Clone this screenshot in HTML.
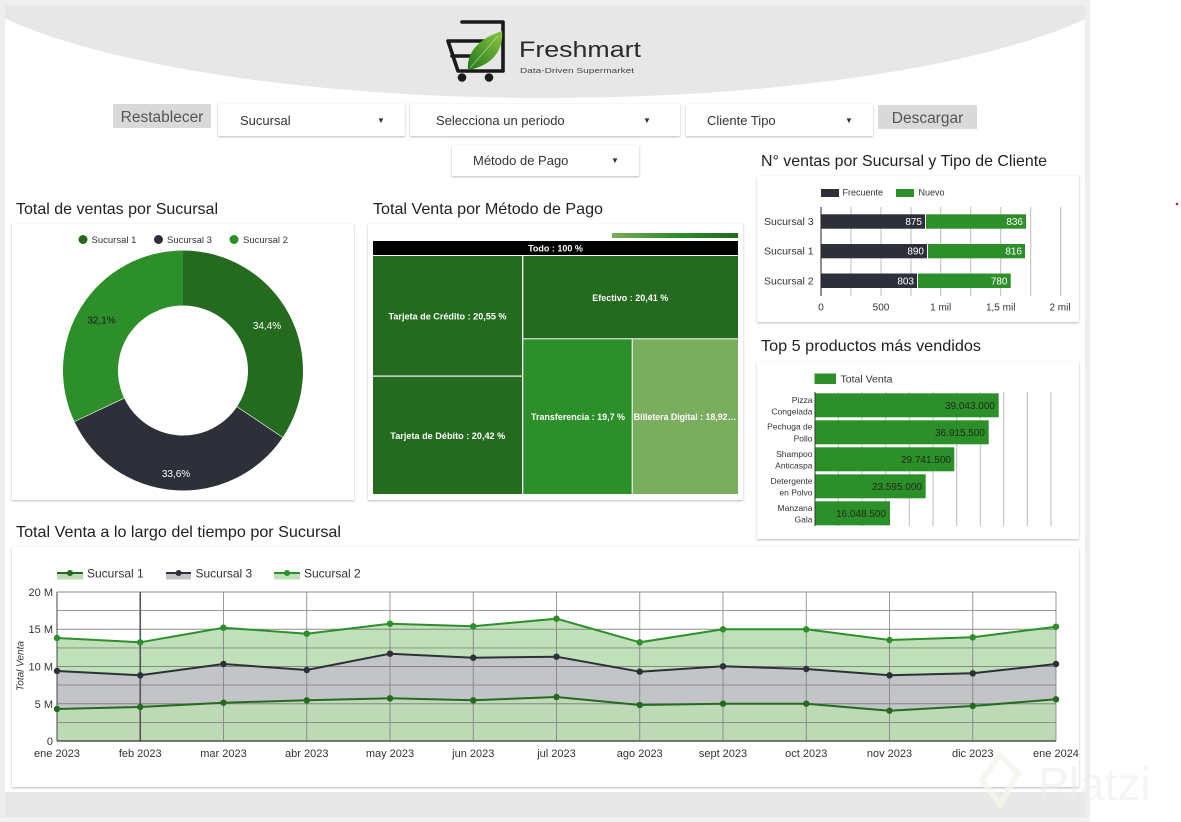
<!DOCTYPE html>
<html><head><meta charset="utf-8"><style>
html,body{margin:0;padding:0;background:#fff;}
svg{display:block;font-family:"Liberation Sans",Arial,sans-serif;}
</style></head><body>
<svg width="1181" height="822" viewBox="0 0 1181 822" xmlns="http://www.w3.org/2000/svg">
<defs>
<filter id="sh" x="-5%" y="-5%" width="110%" height="115%"><feDropShadow dx="0" dy="1" stdDeviation="1" flood-color="#000" flood-opacity="0.28"/></filter>
<clipPath id="mainclip"><rect x="5" y="6" width="1080" height="786"/></clipPath>
<linearGradient id="tg" x1="0" x2="1" y1="0" y2="0"><stop offset="0" stop-color="#7aad5e"/><stop offset="0.5" stop-color="#2d8f29"/><stop offset="1" stop-color="#246b1f"/></linearGradient>
<linearGradient id="leaf" x1="0" y1="1" x2="1" y2="0"><stop offset="0" stop-color="#1f7a1c"/><stop offset="1" stop-color="#8cc63f"/></linearGradient>
</defs>
<!-- frame -->
<rect x="0" y="0" width="1090" height="822" fill="#eeeeee"/>
<rect x="5" y="6" width="1080" height="786" fill="#ffffff"/>
<rect x="5" y="792" width="1080" height="25" fill="#e7e8e7"/>
<rect x="0" y="817" width="1090" height="5" fill="#f2f2f2"/>
<ellipse cx="546" cy="-50" rx="610" ry="148" fill="#e6e7e6" clip-path="url(#mainclip)"/>
<circle cx="1177" cy="204" r="1.3" fill="#c62828"/>

<!-- logo -->
<g fill="none" stroke="#1a1a1a" stroke-width="3.6" stroke-linejoin="round" stroke-linecap="round">
<path d="M462,22 L503,22 L503,71 L458,71 L448,41 L497,41"/>
<path d="M452,56 L490,56"/>
</g>
<circle cx="462" cy="77.5" r="4.3" fill="#1a1a1a"/>
<circle cx="489" cy="77.5" r="4.3" fill="#1a1a1a"/>
<path d="M468,70 C466,52 480,38 502,31 C504,50 492,66 468,70 Z" fill="url(#leaf)"/>
<path d="M470,68 L498,36" stroke="#e6e7e6" stroke-width="0.8" fill="none" opacity="0.6"/>
<text x="519" y="57" font-size="22" fill="#2a2a2a" textLength="122" lengthAdjust="spacingAndGlyphs">Freshmart</text>
<text x="520" y="73" font-size="7.5" fill="#444" textLength="114" lengthAdjust="spacingAndGlyphs">Data-Driven Supermarket</text>

<!-- filter row -->
<rect x="113" y="104" width="98" height="24" fill="#d9d9d9"/>
<text x="162" y="122" font-size="15.5" fill="#555" text-anchor="middle">Restablecer</text>
<rect x="218" y="104" width="187" height="32" fill="#fff" filter="url(#sh)"/>
<text x="240" y="125" font-size="13" fill="#333">Sucursal</text>
<text x="381" y="123" font-size="8" fill="#333" text-anchor="middle">▼</text>
<rect x="410" y="104" width="270" height="32" fill="#fff" filter="url(#sh)"/>
<text x="436" y="125" font-size="13" fill="#333">Selecciona un periodo</text>
<text x="647" y="123" font-size="8" fill="#333" text-anchor="middle">▼</text>
<rect x="686" y="104" width="187" height="32" fill="#fff" filter="url(#sh)"/>
<text x="707" y="125" font-size="13" fill="#333">Cliente Tipo</text>
<text x="849" y="123" font-size="8" fill="#333" text-anchor="middle">▼</text>
<rect x="878" y="105" width="99" height="24" fill="#d9d9d9"/>
<text x="927.5" y="123" font-size="15.5" fill="#555" text-anchor="middle">Descargar</text>
<rect x="452" y="145" width="187" height="31" fill="#fff" filter="url(#sh)"/>
<text x="473" y="165" font-size="13" fill="#333">Método de Pago</text>
<text x="615" y="163" font-size="8" fill="#333" text-anchor="middle">▼</text>

<!-- titles -->
<g font-size="16" fill="#212121">
<text x="16" y="214" textLength="202" lengthAdjust="spacingAndGlyphs">Total de ventas por Sucursal</text>
<text x="373" y="214" textLength="230" lengthAdjust="spacingAndGlyphs">Total Venta por Método de Pago</text>
<text x="761" y="166" textLength="286" lengthAdjust="spacingAndGlyphs">N° ventas por Sucursal y Tipo de Cliente</text>
<text x="761" y="351" textLength="220" lengthAdjust="spacingAndGlyphs">Top 5 productos más vendidos</text>
<text x="16" y="537" textLength="325" lengthAdjust="spacingAndGlyphs">Total Venta a lo largo del tiempo por Sucursal</text>
</g>

<!-- cards -->
<rect x="12" y="224" width="342" height="276" fill="#fff" filter="url(#sh)"/>
<rect x="368" y="224" width="375" height="276" fill="#fff" filter="url(#sh)"/>
<rect x="757" y="176" width="322" height="146" fill="#fff" filter="url(#sh)"/>
<rect x="757" y="362" width="322" height="177" fill="#fff" filter="url(#sh)"/>
<rect x="12" y="547" width="1067" height="240" fill="#fff" filter="url(#sh)"/>

<!-- donut -->
<g font-size="9.5" fill="#333">
<circle cx="83" cy="239.5" r="4.5" fill="#246b1f"/><text x="91.5" y="243">Sucursal 1</text>
<circle cx="158.5" cy="239.5" r="4.5" fill="#2d3038"/><text x="167" y="243">Sucursal 3</text>
<circle cx="234" cy="239.5" r="4.5" fill="#2d8f29"/><text x="243" y="243">Sucursal 2</text>
</g>
<path d="M183,250.5 A120,120 0 0 1 282.67,437.33 L236.99,406.7 A65,65 0 0 0 183,305.5 Z" fill="#246b1f"/>
<path d="M282.67,437.33 A120,120 0 0 1 74.42,421.6 L124.19,398.18 A65,65 0 0 0 236.99,406.7 Z" fill="#2d3038"/>
<path d="M74.42,421.6 A120,120 0 0 1 183,250.5 L183,305.5 A65,65 0 0 0 124.19,398.18 Z" fill="#2d8f29"/>
<line x1="282.67" y1="437.33" x2="236.99" y2="406.7" stroke="#fff" stroke-width="0.6"/>
<line x1="74.42" y1="421.6" x2="124.19" y2="398.18" stroke="#fff" stroke-width="0.6"/>
<g font-size="10" text-anchor="middle">
<text x="267" y="329" fill="#fff">34,4%</text>
<text x="176" y="477" fill="#fff">33,6%</text>
<text x="101.5" y="323.5" fill="#1a1a1a">32,1%</text>
</g>

<!-- treemap -->
<rect x="612" y="233" width="126" height="5" fill="url(#tg)"/>
<rect x="373" y="241" width="365" height="14" fill="#000"/>
<text x="555.5" y="251.5" font-size="9" font-weight="bold" fill="#fff" text-anchor="middle">Todo : 100 %</text>
<rect x="373" y="256" width="149" height="119.5" fill="#246b1f"/>
<rect x="373" y="376.7" width="149" height="117.3" fill="#246b1f"/>
<rect x="523.3" y="256" width="214.7" height="82.3" fill="#246b1f"/>
<rect x="523.3" y="339.3" width="108.4" height="154.7" fill="#2d8f29"/>
<rect x="632.7" y="339.3" width="105.3" height="154.7" fill="#7aad5e"/>
<g font-size="9" font-weight="bold" fill="#fff">
<text x="447.5" y="319.5" text-anchor="middle" textLength="118" lengthAdjust="spacingAndGlyphs">Tarjeta de Crédito : 20,55 %</text>
<text x="447.8" y="438.8" text-anchor="middle" textLength="115" lengthAdjust="spacingAndGlyphs">Tarjeta de Débito : 20,42 %</text>
<text x="630.3" y="300.8" text-anchor="middle" textLength="76" lengthAdjust="spacingAndGlyphs">Efectivo : 20,41 %</text>
<text x="531" y="419.8" textLength="94" lengthAdjust="spacingAndGlyphs">Transferencia : 19,7 %</text>
<text x="633.8" y="419.8" textLength="102.5" lengthAdjust="spacingAndGlyphs">Billetera Digital : 18,92…</text>
</g>

<!-- bar chart 1 -->
<rect x="821" y="189" width="18" height="8" fill="#2d3038"/>
<text x="842.5" y="195.5" font-size="9" fill="#333">Frecuente</text>
<rect x="896" y="189" width="18" height="8" fill="#2d8f29"/>
<text x="918.5" y="195.5" font-size="9" fill="#333">Nuevo</text>
<g stroke="#bdbdbd" stroke-width="1">
<line x1="851" y1="207" x2="851" y2="296"/><line x1="881" y1="207" x2="881" y2="296"/>
<line x1="911" y1="207" x2="911" y2="296"/><line x1="940.7" y1="207" x2="940.7" y2="296"/>
<line x1="970.7" y1="207" x2="970.7" y2="296"/><line x1="1000.7" y1="207" x2="1000.7" y2="296"/>
<line x1="1030.7" y1="207" x2="1030.7" y2="296"/><line x1="1060.7" y1="207" x2="1060.7" y2="296"/>
</g>
<rect x="821" y="214.3" width="104" height="14.4" fill="#2d3038"/>
<rect x="926" y="214.3" width="100" height="14.4" fill="#2d8f29"/>
<rect x="821" y="244" width="106" height="14.3" fill="#2d3038"/>
<rect x="928" y="244" width="97" height="14.3" fill="#2d8f29"/>
<rect x="821" y="273.5" width="96" height="14.5" fill="#2d3038"/>
<rect x="918" y="273.5" width="92.7" height="14.5" fill="#2d8f29"/>
<line x1="821" y1="207" x2="821" y2="296" stroke="#222" stroke-width="1"/>
<g font-size="10" fill="#fff" text-anchor="end">
<text x="922" y="225">875</text><text x="1023" y="225">836</text>
<text x="924" y="254.6">890</text><text x="1022" y="254.6">816</text>
<text x="914" y="284.3">803</text><text x="1007.5" y="284.3">780</text>
</g>
<g font-size="10.5" fill="#333">
<text x="764" y="225">Sucursal 3</text>
<text x="764" y="254.6">Sucursal 1</text>
<text x="764" y="284.3">Sucursal 2</text>
</g>
<g font-size="10" fill="#333" text-anchor="middle">
<text x="821" y="310.5">0</text><text x="881" y="310.5">500</text>
<text x="940.7" y="310.5">1 mil</text><text x="1000.7" y="310.5">1,5 mil</text>
<text x="1060" y="310.5">2 mil</text>
</g>

<!-- bar chart 2 -->
<rect x="814.5" y="373.5" width="21.5" height="10.5" fill="#2d8f29"/>
<text x="840.5" y="382.5" font-size="10.5" fill="#333">Total Venta</text>
<g stroke="#bdbdbd" stroke-width="1">
<line x1="838.3" y1="392" x2="838.3" y2="526"/><line x1="862" y1="392" x2="862" y2="526"/>
<line x1="885.7" y1="392" x2="885.7" y2="526"/><line x1="909.3" y1="392" x2="909.3" y2="526"/>
<line x1="933" y1="392" x2="933" y2="526"/><line x1="956.7" y1="392" x2="956.7" y2="526"/>
<line x1="980.3" y1="392" x2="980.3" y2="526"/><line x1="1003.7" y1="392" x2="1003.7" y2="526"/>
<line x1="1027.3" y1="392" x2="1027.3" y2="526"/><line x1="1051" y1="392" x2="1051" y2="526"/>
</g>
<g fill="#2d8f29">
<rect x="815" y="393.3" width="183.7" height="24"/>
<rect x="815" y="420.3" width="173.7" height="24"/>
<rect x="815" y="447.3" width="139.3" height="24"/>
<rect x="815" y="474.3" width="110.7" height="24"/>
<rect x="815" y="501.3" width="75" height="24"/>
</g>
<line x1="815" y1="392" x2="815" y2="526" stroke="#333" stroke-width="1"/>
<g font-size="10" fill="#1c2a1a" text-anchor="end">
<text x="995" y="409">39.043.000</text>
<text x="985" y="436">36.915.500</text>
<text x="951" y="463">29.741.500</text>
<text x="922" y="490">23.595.000</text>
<text x="886" y="517">16.048.500</text>
</g>
<g font-size="8.5" fill="#333" text-anchor="end">
<text x="812.5" y="403">Pizza</text><text x="812.5" y="414.5">Congelada</text>
<text x="812.5" y="429.5">Pechuga de</text><text x="812.5" y="441.5">Pollo</text>
<text x="812.5" y="457">Shampoo</text><text x="812.5" y="468.5">Anticaspa</text>
<text x="812.5" y="484">Detergente</text><text x="812.5" y="495.5">en Polvo</text>
<text x="812.5" y="511">Manzana</text><text x="812.5" y="522.5">Gala</text>
</g>

<!-- line chart legend -->
<g>
<rect x="57" y="573" width="26" height="6.5" fill="#bdd9b6"/>
<line x1="57" y1="573" x2="83" y2="573" stroke="#246b1f" stroke-width="2"/>
<circle cx="70" cy="573" r="3" fill="#246b1f"/>
<text x="87" y="577.5" font-size="12" fill="#333">Sucursal 1</text>
<rect x="166" y="573" width="25" height="6.5" fill="#c3c4c8"/>
<line x1="166" y1="573" x2="191" y2="573" stroke="#2d3038" stroke-width="2"/>
<circle cx="178.6" cy="573" r="3" fill="#2d3038"/>
<text x="195.5" y="577.5" font-size="12" fill="#333">Sucursal 3</text>
<rect x="274" y="573" width="26" height="6.5" fill="#bfe0b8"/>
<line x1="274" y1="573" x2="300" y2="573" stroke="#2d8f29" stroke-width="2"/>
<circle cx="287" cy="573" r="3" fill="#2d8f29"/>
<text x="304" y="577.5" font-size="12" fill="#333">Sucursal 2</text>
</g>

<!-- line chart areas -->
<path d="M57,638 L140.25,642.3 L223.5,627.7 L306.75,633.7 L390,623.7 L473.25,626.3 L556.5,618.7 L639.75,642.3 L723,629.3 L806.25,629.3 L889.5,640 L972.75,637.3 L1056,626.7 L1056,741 L57,741 Z" fill="#bfe0b8"/>
<path d="M57,671 L140.25,675.3 L223.5,664 L306.75,670 L390,653.7 L473.25,657.7 L556.5,656.7 L639.75,671.7 L723,666.3 L806.25,669 L889.5,675.3 L972.75,673.3 L1056,664 L1056,741 L57,741 Z" fill="#c3c4c8"/>
<path d="M57,709 L140.25,707 L223.5,702.7 L306.75,700.3 L390,698.3 L473.25,700.3 L556.5,697 L639.75,705 L723,703.7 L806.25,703.7 L889.5,710.7 L972.75,706 L1056,699.3 L1056,741 L57,741 Z" fill="#bdd9b6"/>
<!-- grid -->
<g stroke="#7a7a7a" stroke-width="0.9" opacity="0.85">
<line x1="57" y1="592" x2="1056" y2="592"/><line x1="57" y1="610.6" x2="1056" y2="610.6"/>
<line x1="57" y1="629.25" x2="1056" y2="629.25"/><line x1="57" y1="647.9" x2="1056" y2="647.9"/>
<line x1="57" y1="666.5" x2="1056" y2="666.5"/><line x1="57" y1="685.1" x2="1056" y2="685.1"/>
<line x1="57" y1="703.75" x2="1056" y2="703.75"/><line x1="57" y1="722.4" x2="1056" y2="722.4"/>
<line x1="223.5" y1="592" x2="223.5" y2="741"/><line x1="306.75" y1="592" x2="306.75" y2="741"/>
<line x1="390" y1="592" x2="390" y2="741"/><line x1="473.25" y1="592" x2="473.25" y2="741"/>
<line x1="556.5" y1="592" x2="556.5" y2="741"/><line x1="639.75" y1="592" x2="639.75" y2="741"/>
<line x1="723" y1="592" x2="723" y2="741"/><line x1="806.25" y1="592" x2="806.25" y2="741"/>
<line x1="889.5" y1="592" x2="889.5" y2="741"/><line x1="972.75" y1="592" x2="972.75" y2="741"/>
<line x1="1056" y1="592" x2="1056" y2="741"/>
</g>
<line x1="140.25" y1="592" x2="140.25" y2="741" stroke="#555" stroke-width="1.6"/>
<line x1="57" y1="592" x2="57" y2="741" stroke="#444" stroke-width="1"/>
<line x1="57" y1="741" x2="1056" y2="741" stroke="#333" stroke-width="1.2"/>
<!-- lines -->
<g fill="none" stroke-width="2">
<polyline stroke="#2d8f29" points="57,638 140.25,642.3 223.5,627.7 306.75,633.7 390,623.7 473.25,626.3 556.5,618.7 639.75,642.3 723,629.3 806.25,629.3 889.5,640 972.75,637.3 1056,626.7"/>
<polyline stroke="#2d3038" points="57,671 140.25,675.3 223.5,664 306.75,670 390,653.7 473.25,657.7 556.5,656.7 639.75,671.7 723,666.3 806.25,669 889.5,675.3 972.75,673.3 1056,664"/>
<polyline stroke="#246b1f" points="57,709 140.25,707 223.5,702.7 306.75,700.3 390,698.3 473.25,700.3 556.5,697 639.75,705 723,703.7 806.25,703.7 889.5,710.7 972.75,706 1056,699.3"/>
</g>
<g fill="#2d8f29">
<circle cx="57" cy="638" r="3.2"/><circle cx="140.25" cy="642.3" r="3.2"/><circle cx="223.5" cy="627.7" r="3.2"/><circle cx="306.75" cy="633.7" r="3.2"/><circle cx="390" cy="623.7" r="3.2"/><circle cx="473.25" cy="626.3" r="3.2"/><circle cx="556.5" cy="618.7" r="3.2"/><circle cx="639.75" cy="642.3" r="3.2"/><circle cx="723" cy="629.3" r="3.2"/><circle cx="806.25" cy="629.3" r="3.2"/><circle cx="889.5" cy="640" r="3.2"/><circle cx="972.75" cy="637.3" r="3.2"/><circle cx="1056" cy="626.7" r="3.2"/>
</g>
<g fill="#2d3038">
<circle cx="57" cy="671" r="3.2"/><circle cx="140.25" cy="675.3" r="3.2"/><circle cx="223.5" cy="664" r="3.2"/><circle cx="306.75" cy="670" r="3.2"/><circle cx="390" cy="653.7" r="3.2"/><circle cx="473.25" cy="657.7" r="3.2"/><circle cx="556.5" cy="656.7" r="3.2"/><circle cx="639.75" cy="671.7" r="3.2"/><circle cx="723" cy="666.3" r="3.2"/><circle cx="806.25" cy="669" r="3.2"/><circle cx="889.5" cy="675.3" r="3.2"/><circle cx="972.75" cy="673.3" r="3.2"/><circle cx="1056" cy="664" r="3.2"/>
</g>
<g fill="#246b1f">
<circle cx="57" cy="709" r="3.2"/><circle cx="140.25" cy="707" r="3.2"/><circle cx="223.5" cy="702.7" r="3.2"/><circle cx="306.75" cy="700.3" r="3.2"/><circle cx="390" cy="698.3" r="3.2"/><circle cx="473.25" cy="700.3" r="3.2"/><circle cx="556.5" cy="697" r="3.2"/><circle cx="639.75" cy="705" r="3.2"/><circle cx="723" cy="703.7" r="3.2"/><circle cx="806.25" cy="703.7" r="3.2"/><circle cx="889.5" cy="710.7" r="3.2"/><circle cx="972.75" cy="706" r="3.2"/><circle cx="1056" cy="699.3" r="3.2"/>
</g>
<!-- axis labels -->
<g font-size="11" fill="#333" text-anchor="end">
<text x="53" y="596">20 M</text><text x="53" y="633">15 M</text><text x="53" y="670.5">10 M</text><text x="53" y="708">5 M</text><text x="53" y="745">0</text>
</g>
<text transform="translate(23.5,666) rotate(-90)" font-size="10" font-style="italic" fill="#333" text-anchor="middle">Total Venta</text>
<g font-size="11" fill="#333" text-anchor="middle">
<text x="57" y="757">ene 2023</text><text x="140.25" y="757">feb 2023</text><text x="223.5" y="757">mar 2023</text>
<text x="306.75" y="757">abr 2023</text><text x="390" y="757">may 2023</text><text x="473.25" y="757">jun 2023</text>
<text x="556.5" y="757">jul 2023</text><text x="639.75" y="757">ago 2023</text><text x="723" y="757">sept 2023</text>
<text x="806.25" y="757">oct 2023</text><text x="889.5" y="757">nov 2023</text><text x="972.75" y="757">dic 2023</text>
<text x="1056" y="757">ene 2024</text>
</g>

<!-- watermark -->
<path d="M1000,755 L1018,773 L1000,805 L982,780 Z" fill="none" stroke="#f3f6ec" stroke-width="6" stroke-linejoin="round" opacity="0.8"/>
<text x="1038" y="800" font-size="46" fill="#eeeeee" opacity="0.6">Platzi</text>
</svg>
</body></html>
